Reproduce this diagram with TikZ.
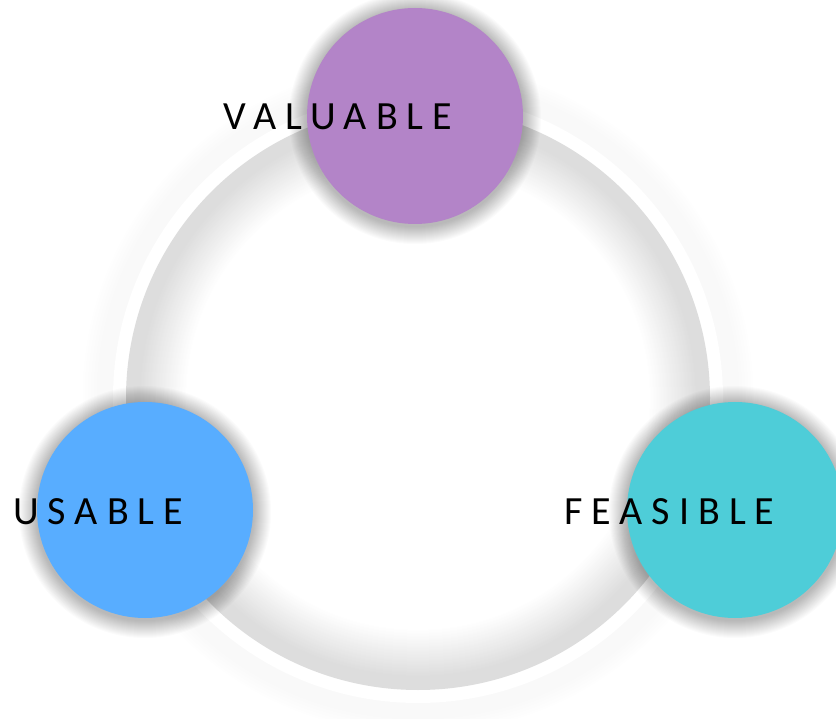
\documentclass[tikz,border=0pt]{standalone}
\usepackage{fontspec}
\newfontfamily\labelfont[LetterSpace=22.5]{Carlito}
\usetikzlibrary{calc}
\definecolor{cvaluable}{RGB}{179,132,200}
\definecolor{cusable}{RGB}{88,173,255}
\definecolor{cfeasible}{RGB}{78,205,216}
\tikzset{
  bigdot/.style={circle, minimum size=216pt, inner sep=0pt, draw=none},
  lbl/.style={anchor=base west, inner sep=0pt, font=\labelfont\fontsize{40}{48}\selectfont, text=black},
}
\newcommand{\softshadow}[1]{%
  \foreach \k in {18,...,1}{\pgfmathsetmacro{\rr}{108+\k}\fill[black, opacity=0.016] ($(#1)+(0,2)$) circle (\rr pt);}}
\begin{document}
\begin{tikzpicture}[x=1pt,y=-1pt]
\useasboundingbox (0,0) rectangle (836,719);
\clip (0,0) rectangle (836,719);
\fill[white] (0,0) rectangle (836,719);
\coordinate (c) at (418,398);
% outer faint halo
\foreach \k in {45,...,14}{
  \pgfmathsetmacro{\p}{2.5*min(1,(45-\k)/18)}
  \pgfmathsetmacro{\rr}{292+\k}
  \fill[black!\p] (c) circle (\rr pt);}
\fill[white] (c) circle (305pt);
% ring with inner fade
\foreach \k in {0,...,60}{
  \pgfmathsetmacro{\p}{13.5*min(1,(60-\k)/48)}
  \pgfmathsetmacro{\rr}{292-\k}
  \fill[black!\p] (c) circle (\rr pt);}
\fill[white] (c) circle (231pt);
% circles
\coordinate (pv) at (415,116);
\coordinate (pu) at (145,510);
\coordinate (pf) at (735,510);
\softshadow{pv}
\softshadow{pu}
\softshadow{pf}
\node[bigdot, fill=cvaluable] (valuable) at (pv) {};
\node[bigdot, fill=cusable] (usable) at (pu) {};
\node[bigdot, fill=cfeasible] (feasible) at (pf) {};
% labels
\node[lbl] (tvaluable) at (223,130) {VALUABLE};
\node[lbl] (tusable) at (13,524) {USABLE};
\node[lbl] (tfeasible) at (564,524) {FEASIBLE};
\end{tikzpicture}
\end{document}
